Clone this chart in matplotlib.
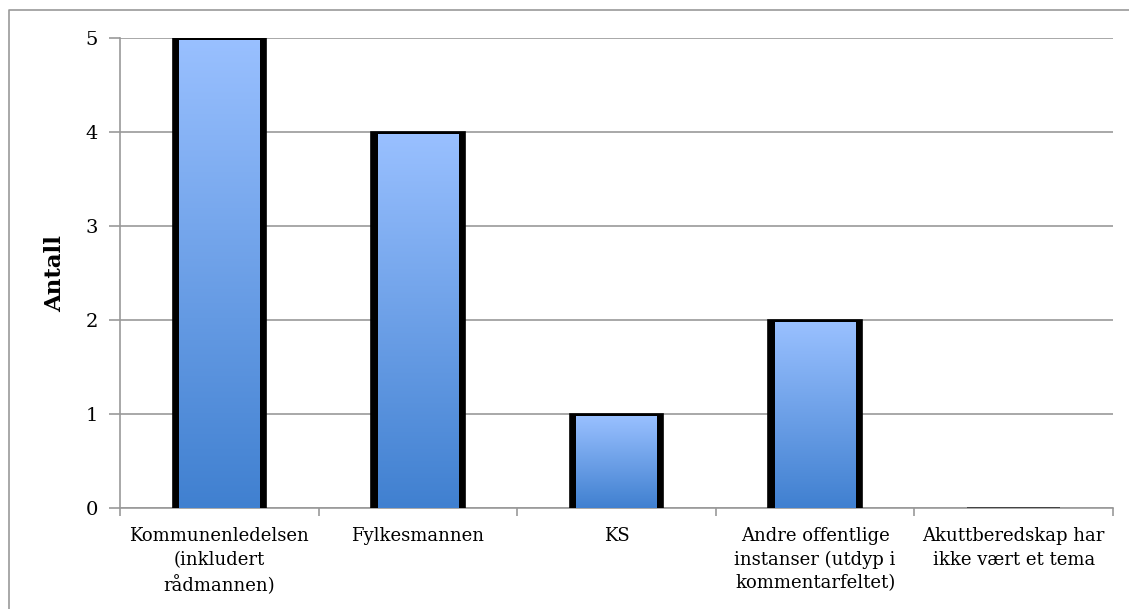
import numpy as np
import matplotlib.pyplot as plt
from matplotlib.colors import LinearSegmentedColormap
from matplotlib.lines import Line2D

categories = ["Kommunenledelsen\n(inkludert\nrådmannen)", "Fylkesmannen", "KS",
              "Andre offentlige\ninstanser (utdyp i\nkommentarfeltet)",
              "Akuttberedskap har\nikke vært et tema"]
values = [5, 4, 1, 2, 0]
yticks = [0, 1, 2, 3, 4, 5]

plt.rcParams['font.family'] = ['DejaVu Serif']

W, H = 1129, 609
fig = plt.figure(figsize=(W / 100, H / 100), dpi=100)
ax = fig.add_axes([120 / W, 1 - 508 / H, (1113 - 120) / W, (508 - 38) / H])

# outer frame (left + top only visible)
fig.lines.append(Line2D([9 / W, 9 / W, 1.0], [0, 1 - 10 / H, 1 - 10 / H],
                        transform=fig.transFigure, color='#999999', lw=1.2))

grad = LinearSegmentedColormap.from_list('g', ['#4080D0', '#99C0FF'])
x = np.arange(len(values))
bw = 0.47
bars = ax.bar(x, values, width=bw, color='black', edgecolor='black', linewidth=1.2, zorder=3)
g = np.linspace(0, 1, 256).reshape(-1, 1)
for b, v in zip(bars, values):
    if v <= 0:
        b.set_edgecolor('#333333')
        b.set_linewidth(1.2)
        continue
    x0 = b.get_x() + 0.032
    x1 = b.get_x() + b.get_width() - 0.032
    ax.imshow(g, cmap=grad, origin='lower', aspect='auto',
              extent=(x0, x1, 0, v - 0.022), zorder=4)

ax.set_xlim(-0.5, len(values) - 0.5)
ax.set_ylim(0, 5)
ax.set_yticks(yticks)
ax.set_yticklabels([str(t) for t in yticks], fontsize=14)
ax.set_xticks(x)
ax.set_xticklabels(categories, fontsize=13, linespacing=1.38)
ax.tick_params(axis='x', length=0, pad=14)
ax.set_xticks(np.arange(len(values) + 1) - 0.5, minor=True)
ax.tick_params(axis='x', which='minor', length=6, color='#999999', width=1.2)
ax.tick_params(axis='y', length=8, color='#999999', width=1.2, pad=8)
ax.grid(axis='y', color='#999999', lw=1.2, zorder=0)
ax.set_axisbelow(True)
for s in ['top', 'right']:
    ax.spines[s].set_visible(False)
for s in ['left', 'bottom']:
    ax.spines[s].set_color('#999999')
    ax.spines[s].set_linewidth(1.2)
ax.set_ylabel('Antall', fontsize=16.5, fontweight='bold', labelpad=14)

fig.savefig('out.png', dpi=100)
